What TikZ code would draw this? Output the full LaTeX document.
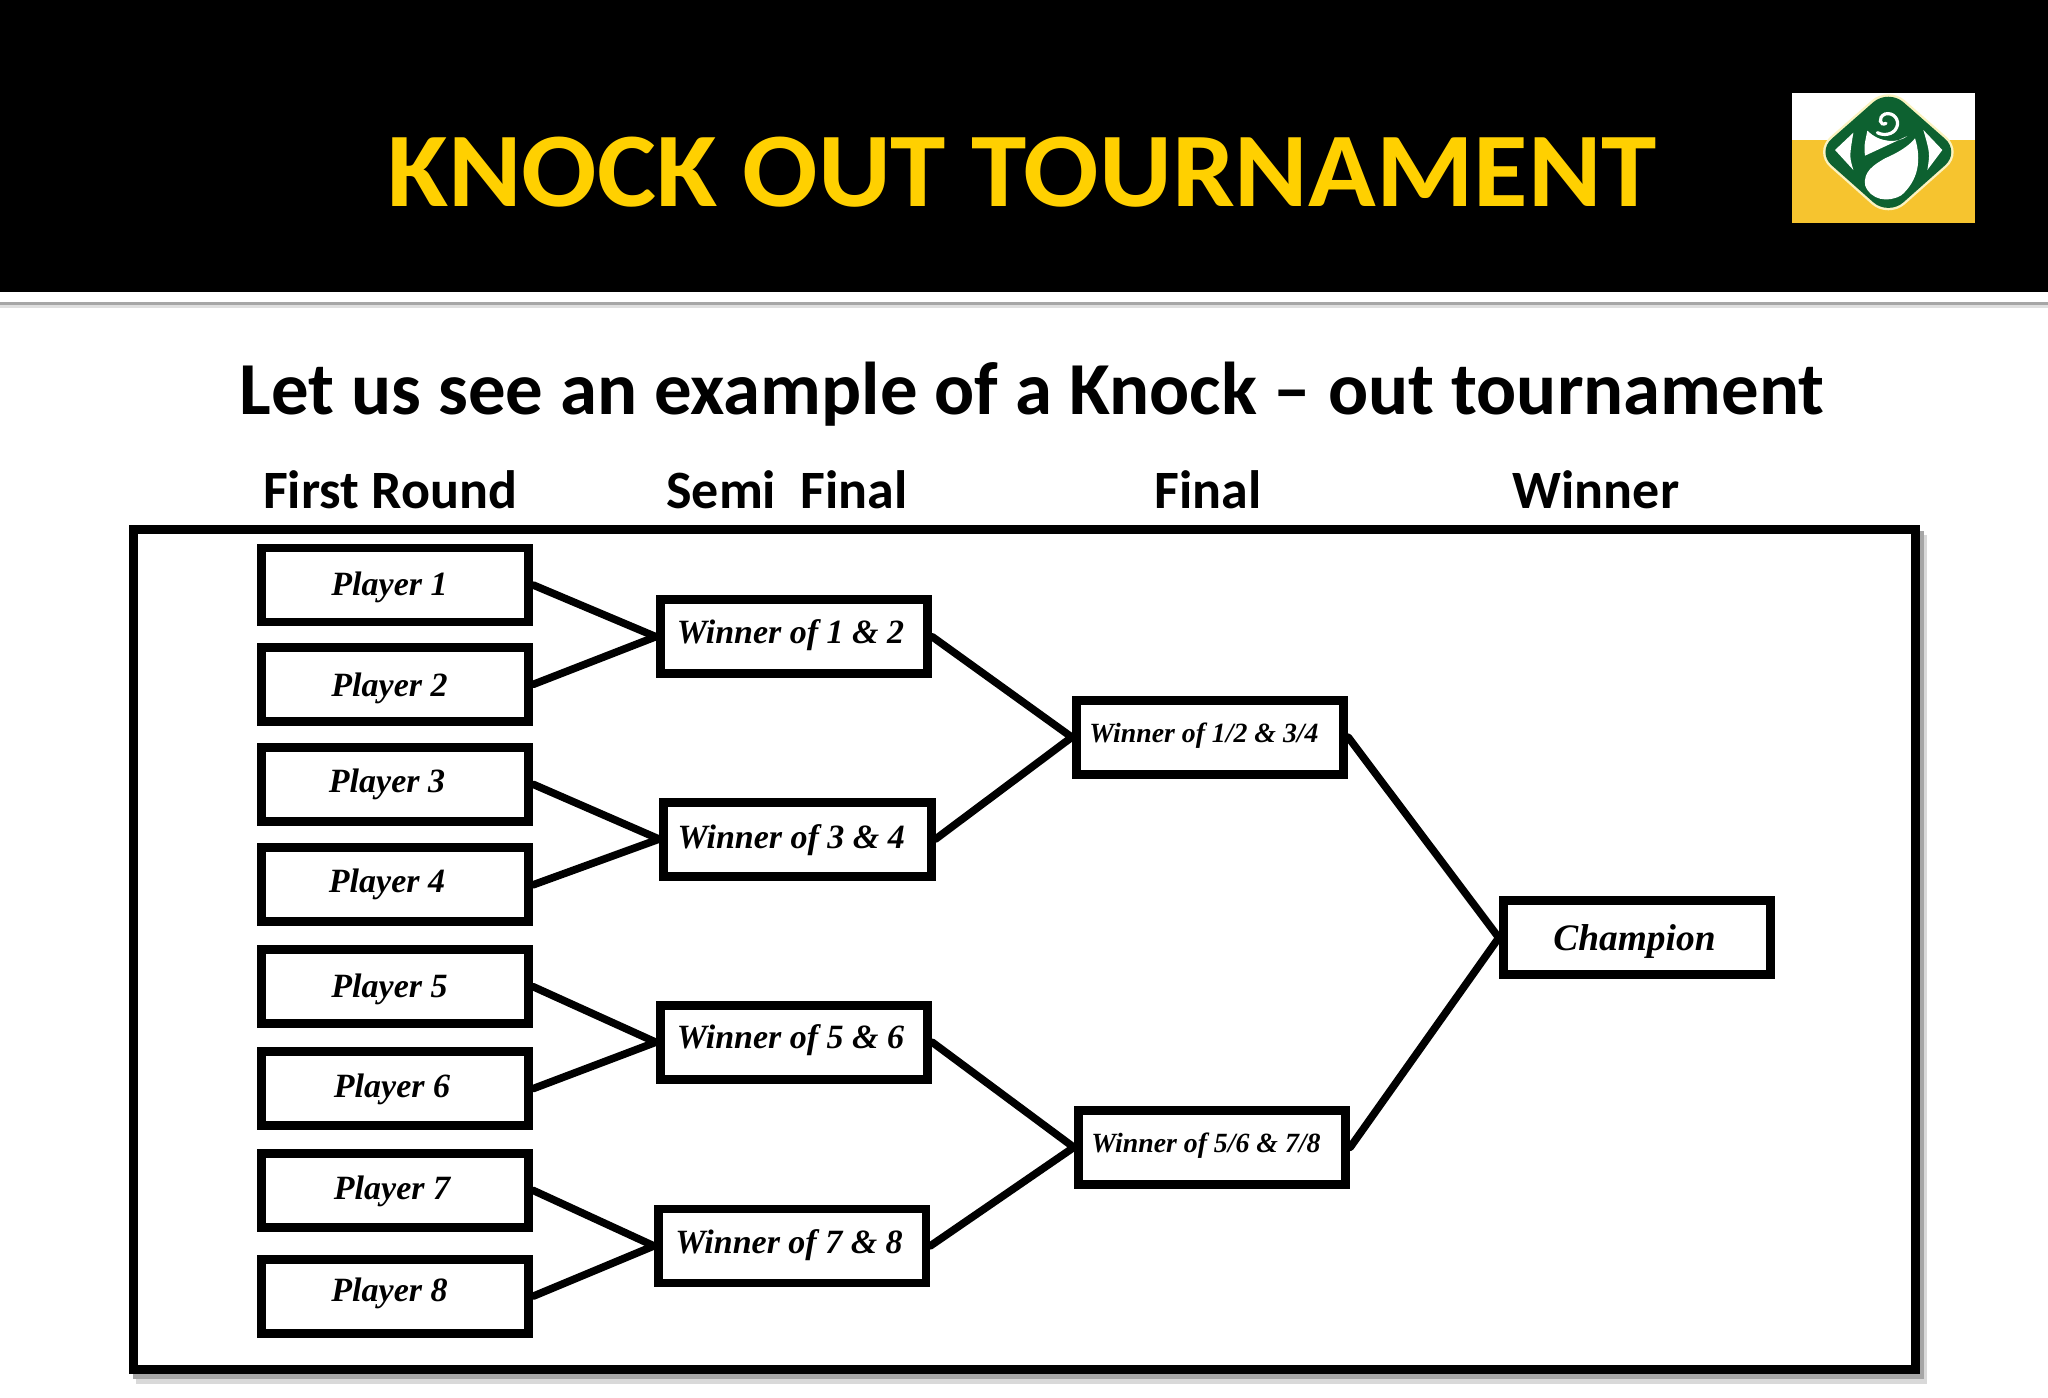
\documentclass[tikz,border=0pt]{standalone}
\usepackage{fontspec}
\setmainfont{Carlito}
\newfontfamily\boxfont{Liberation Serif}
\usetikzlibrary{calc,positioning}
\definecolor{titlegold}{HTML}{FFD000}
\definecolor{logogold}{HTML}{F6C42F}
\definecolor{logogreen}{HTML}{0D6130}
\definecolor{logohalo}{HTML}{FBF3C0}
\tikzstyle{pblock} = [draw, fill=white, rectangle, line width=4.4pt, inner sep=0pt,
    minimum height=37pt, minimum width=133.8pt, align=center,
    font=\boxfont\bfseries\itshape\fontsize{17}{20}\selectfont]
\tikzstyle{fblock} = [pblock, font=\boxfont\bfseries\itshape\fontsize{13.9}{16}\selectfont]
\tikzstyle{cblock} = [pblock, font=\boxfont\bfseries\itshape\fontsize{18.7}{22}\selectfont]
\tikzstyle{link} = [line width=3.8pt, line cap=round]
\tikzstyle{heading} = [anchor=base, inner sep=0pt, font=\bfseries\fontsize{27}{32}\selectfont]
\newcommand{\boxtext}[3]{\hspace*{#1}\raisebox{#2}[\height][\depth]{#3}}
\begin{document}
\begin{tikzpicture}[x=.5pt,y=-.5pt]
\useasboundingbox (0,0) rectangle (2048,1397);
\fill[white] (0,0) rectangle (2048,1397);

% header band
\fill[black] (0,0) rectangle (2048,292);
\fill[gray!70] (0,302) rectangle (2048,305);
\fill[gray!25] (0,305) rectangle (2048,308);
\node (title) [anchor=base,inner sep=0pt,text=titlegold,font=\bfseries\fontsize{53}{60}\selectfont] at(1022,206) {\scalebox{1.053}[1]{KNOCK OUT TOURNAMENT}};
\node (subtitle) [anchor=base,inner sep=0pt,font=\bfseries\fontsize{37.4}{44}\selectfont] at(1032,414) {Let us see an example of a Knock -- out tournament};

% logo
\fill[white] (1792,93) rectangle (1975,140);
\fill[logogold] (1792,140) rectangle (1975,223);
\begin{scope}[shift={(1790,90)},x=.16667pt,y=-.16667pt]
\draw[logohalo,line width=2.4pt,rounded corners=10pt] (295,-3) -- (510,186) -- (295,377) -- (80,186) -- cycle;
\fill[logogreen,rounded corners=10pt] (295,-3) -- (510,186) -- (295,377) -- (80,186) -- cycle;
\fill[white] (190,128) -- (135,180) -- (190,240) .. controls (178,200) .. (190,128) -- cycle;
\fill[white] (400,120) -- (457,180) -- (412,240) .. controls (420,190) .. (400,120) -- cycle;
\fill[white] (232,122) .. controls (270,160) and (325,160) .. (352,138) -- (225,197) .. controls (222,170) .. (232,122) -- cycle;
\fill[white] (375,145) .. controls (395,210) and (385,270) .. (335,315) .. controls (295,340) and (240,330) .. (225,285) .. controls (220,245) and (250,225) .. (285,205) .. controls (320,190) and (355,170) .. (375,145) -- cycle;
\draw[white,line width=1.6pt,line cap=round] (288,100) .. controls (270,110) and (262,82) .. (285,72) .. controls (310,65) and (330,90) .. (320,112) .. controls (310,135) and (280,138) .. (262,128);
\end{scope}

% column heads
\node (head_first) [heading] at(390,508.5) {First Round};
\node (head_semi) [heading] at(787,508.5) {Semi\ \ Final};
\node (head_final) [heading] at(1208,508.5) {Final};
\node (head_winner) [heading] at(1596,508.5) {Winner};

% frame with its shadow
\fill[gray!30] (136,535) rectangle (1927,1384);
\fill[gray!70] (133,531) rectangle (1924,1379);
\node (frame) [draw,fill=white,rectangle,line width=4.4pt,inner sep=0pt,minimum width=891.1pt,minimum height=420.3pt] at(1024.6,949.5) {};

\node (player_1) [pblock] at(395,585) {\boxtext{-5.5pt}{-1pt}{Player 1}};
\node (player_2) [pblock] at(395,684.4) {\boxtext{-5.5pt}{-2pt}{Player 2}};
\node (player_3) [pblock] at(395,784.3) {\boxtext{-8pt}{0pt}{Player 3}};
\node (player_4) [pblock] at(395,884.8) {\boxtext{-8pt}{0pt}{Player 4}};
\node (player_5) [pblock] at(395,986.7) {\boxtext{-5.5pt}{-1.3pt}{Player 5}};
\node (player_6) [pblock] at(395,1088.6) {\boxtext{-3pt}{-.5pt}{Player 6}};
\node (player_7) [pblock] at(395,1190.4) {\boxtext{-3pt}{-.5pt}{Player 7}};
\node (player_8) [pblock] at(395,1296.2) {\boxtext{-5.5pt}{1.3pt}{Player 8}};

\node (winner_12) [pblock] at(794,636.7) {\boxtext{-3.5pt}{1pt}{Winner of 1 \& 2}};
\node (winner_34) [pblock] at(797.3,839.1) {\boxtext{-6pt}{-.6pt}{Winner of 3 \& 4}};
\node (winner_56) [pblock] at(794,1042.2) {\boxtext{-3.5pt}{1pt}{Winner of 5 \& 6}};
\node (winner_78) [pblock] at(792.1,1245.9) {\boxtext{-3pt}{.5pt}{Winner of 7 \& 8}};

\node (final_hi) [fblock] at(1210,737.2) {\boxtext{-6pt}{1pt}{Winner of 1/2 \& 3/4}};
\node (final_lo) [fblock] at(1212,1147.3) {\boxtext{-6pt}{.6pt}{Winner of 5/6 \& 7/8}};

\node (champion) [cblock] at(1637,937.7) {\boxtext{-2.5pt}{-2pt}{Champion}};

\draw[link] (player_1.east) -- (winner_12.west);
\draw[link] (player_2.east) -- (winner_12.west);
\draw[link] (player_3.east) -- (winner_34.west);
\draw[link] (player_4.east) -- (winner_34.west);
\draw[link] (player_5.east) -- (winner_56.west);
\draw[link] (player_6.east) -- (winner_56.west);
\draw[link] (player_7.east) -- (winner_78.west);
\draw[link] (player_8.east) -- (winner_78.west);
\draw[link] (winner_12.east) -- (final_hi.west);
\draw[link] (winner_34.east) -- (final_hi.west);
\draw[link] (winner_56.east) -- (final_lo.west);
\draw[link] (winner_78.east) -- (final_lo.west);
\draw[link] (final_hi.east) -- (champion.west);
\draw[link] (final_lo.east) -- (champion.west);
\end{tikzpicture}
\end{document}
